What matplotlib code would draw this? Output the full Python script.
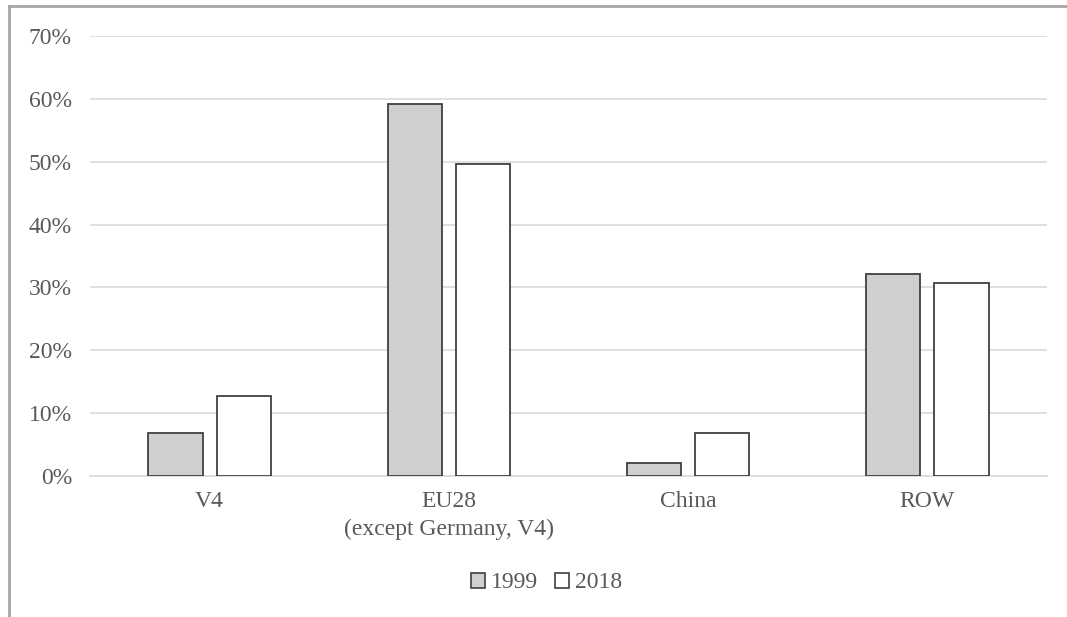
import matplotlib
matplotlib.use("Agg")
import matplotlib.pyplot as plt
import numpy as np
from matplotlib.lines import Line2D
from matplotlib.patches import Patch

categories = ["V4", "EU28\n(except Germany, V4)", "China", "ROW"]
series_names = ["1999", "2018"]
values_1999 = [6.8, 59.2, 2.1, 32.1]
values_2018 = [12.7, 49.6, 6.9, 30.7]
yticks = [0, 10, 20, 30, 40, 50, 60, 70]

plt.rcParams['font.family'] = ['Liberation Serif', 'DejaVu Serif']
txt = '#595959'
fs = 17

fig = plt.figure(figsize=(10.67, 6.17), dpi=100)
ax = fig.add_axes([90/1067, 1-476/617, (1047-90)/1067, (476-36)/617])

x = np.arange(len(categories))
w = 0.226
off = (w + 0.059) / 2
ax.bar(x - off, values_1999, width=w, color='#d0cece', edgecolor='#404040', linewidth=1.3, zorder=3, label=series_names[0])
ax.bar(x + off, values_2018, width=w, color='white', edgecolor='#404040', linewidth=1.3, zorder=3, label=series_names[1])

ax.set_xlim(-0.5, len(categories) - 0.5)
ax.set_ylim(0, 70)
ax.set_yticks(yticks)
ax.set_yticklabels([f"{t}%" for t in yticks])
ax.set_xticks(x)
ax.set_xticklabels(categories, linespacing=1.42)
ax.tick_params(axis='both', length=0, labelsize=fs, colors=txt)
ax.tick_params(axis='y', pad=13)
ax.tick_params(axis='x', pad=11)
ax.grid(axis='y', color='#d9d9d9', linewidth=1.2, zorder=0)
for s in ['top', 'right', 'left']:
    ax.spines[s].set_visible(False)
ax.spines['bottom'].set_color('#d9d9d9')
ax.spines['bottom'].set_linewidth(1.2)

handles = [Patch(facecolor='#d0cece', edgecolor='#404040', linewidth=1.2),
           Patch(facecolor='white', edgecolor='#404040', linewidth=1.2)]
fig.legend(handles, series_names, loc='center', bbox_to_anchor=(546.5/1067, 1-583/617),
           ncol=2, frameon=False, fontsize=fs, labelcolor=txt,
           handlelength=0.6, handleheight=0.6, handletextpad=0.25, columnspacing=0.72,
           borderpad=0.2)

# outer frame (top and left)
fig.add_artist(Line2D([9/1067, 1], [1-6/617, 1-6/617], color='#a6a6a6', linewidth=2, transform=fig.transFigure))
fig.add_artist(Line2D([9/1067, 9/1067], [0, 1-6/617], color='#a6a6a6', linewidth=2, transform=fig.transFigure))

fig.savefig("out.png", dpi=100)
